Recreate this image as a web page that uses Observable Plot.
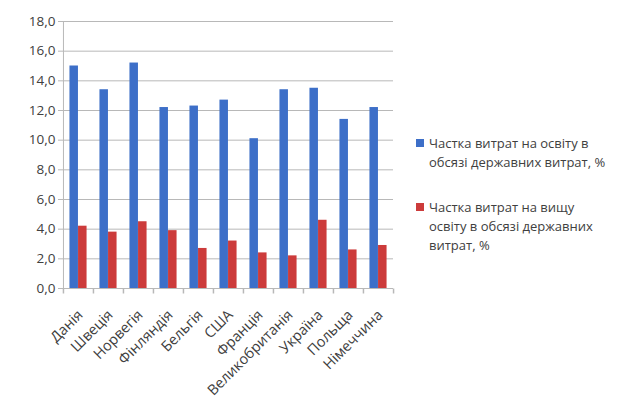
<!DOCTYPE html>
<html>
<head>
<meta charset="utf-8">
<script src="https://cdn.jsdelivr.net/npm/d3@7"></script>
<script src="https://cdn.jsdelivr.net/npm/@observablehq/plot@0.6"></script>
<style>
  html, body { margin: 0; padding: 0; background: #fff; }
  #wrap { position: relative; width: 619px; height: 396px; font-family: "Open Sans", sans-serif; }
  .legend { position: absolute; left: 416px; font-size: 13px; line-height: 19px; color: #404040; }
  .legend .sw { position: absolute; left: 0; top: 5px; width: 8px; height: 8px; }
  .legend .tx { margin-left: 13px; }
</style>
</head>
<body>
<div id="wrap"></div>
<script>
const countries = ["Данія", "Швеція", "Норвегія", "Фінляндія", "Бельгія", "США", "Франція", "Великобританія", "Україна", "Польща", "Німеччина"];
const eduShare = [15.0, 13.4, 15.2, 12.2, 12.3, 12.7, 10.1, 13.4, 13.5, 11.4, 12.2];
const higherEduShare = [4.2, 3.8, 4.5, 3.9, 2.7, 3.2, 2.4, 2.2, 4.6, 2.6, 2.9];
const seriesNames = ["Частка витрат на освіту в обсязі державних витрат, %", "Частка витрат на вищу освіту в обсязі державних витрат, %"];
const seriesColors = ["#3d6fc8", "#cc3b3b"];
const yTicks = [0, 2, 4, 6, 8, 10, 12, 14, 16, 18];

const W = 619, H = 396, mL = 62, mR = 226, mT = 21, mB = 108;
const bw = (W - mL - mR) / countries.length;
const barW = 8.6;

const rows1 = countries.map((c, i) => ({country: c, value: eduShare[i]}));
const rows2 = countries.map((c, i) => ({country: c, value: higherEduShare[i]}));

const tickSym = {draw(ctx) { ctx.moveTo(0, 0); ctx.lineTo(0, 5); }};
const fmt = d => d.toFixed(1).replace(".", ",");

const chart = Plot.plot({
  width: W, height: H,
  marginLeft: mL, marginRight: mR, marginTop: mT, marginBottom: mB,
  style: {fontFamily: "Open Sans, sans-serif", background: "transparent"},
  x: {type: "band", domain: countries, padding: 0, label: null},
  y: {domain: [0, 18], label: null},
  marks: [
    Plot.ruleY(yTicks, {stroke: "#b8b8b8", strokeWidth: 1}),
    Plot.ruleX([countries[0]], {x: d => d, dx: -bw / 2, stroke: "#b8b8b8"}),
    Plot.dot(countries, {x: d => d, y: 0, dx: -bw / 2, symbol: tickSym, stroke: "#b8b8b8", r: 3}),
    Plot.dot([countries[countries.length - 1]], {x: d => d, y: 0, dx: bw / 2, symbol: tickSym, stroke: "#b8b8b8", r: 3}),
    Plot.barY(rows1, {x: "country", y: "value", fill: seriesColors[0], insetLeft: bw / 2 - barW, insetRight: bw / 2}),
    Plot.barY(rows2, {x: "country", y: "value", fill: seriesColors[1], insetLeft: bw / 2, insetRight: bw / 2 - barW}),
    Plot.axisY({ticks: yTicks, tickFormat: fmt, tickSize: 4, tickPadding: 3, stroke: "#b8b8b8", color: "#404040", fontSize: 13.5, label: null}),
    Plot.axisX({tickSize: 0, tickPadding: 24, tickRotate: -45, color: "#404040", fontSize: 14.5, label: null, dx: 2})
  ]
});

const wrap = document.getElementById("wrap");
chart.style.position = "absolute";
chart.style.left = "0px";
chart.style.top = "0px";
wrap.appendChild(chart);

const legendTops = [134, 198];
const legendWidths = [180, 165];
seriesNames.forEach((name, i) => {
  const item = document.createElement("div");
  item.className = "legend";
  item.style.top = legendTops[i] + "px";
  const sw = document.createElement("div");
  sw.className = "sw";
  sw.style.background = seriesColors[i];
  const tx = document.createElement("div");
  tx.className = "tx";
  tx.style.width = legendWidths[i] + "px";
  tx.textContent = name;
  item.appendChild(sw);
  item.appendChild(tx);
  wrap.appendChild(item);
});
</script>
</body>
</html>
